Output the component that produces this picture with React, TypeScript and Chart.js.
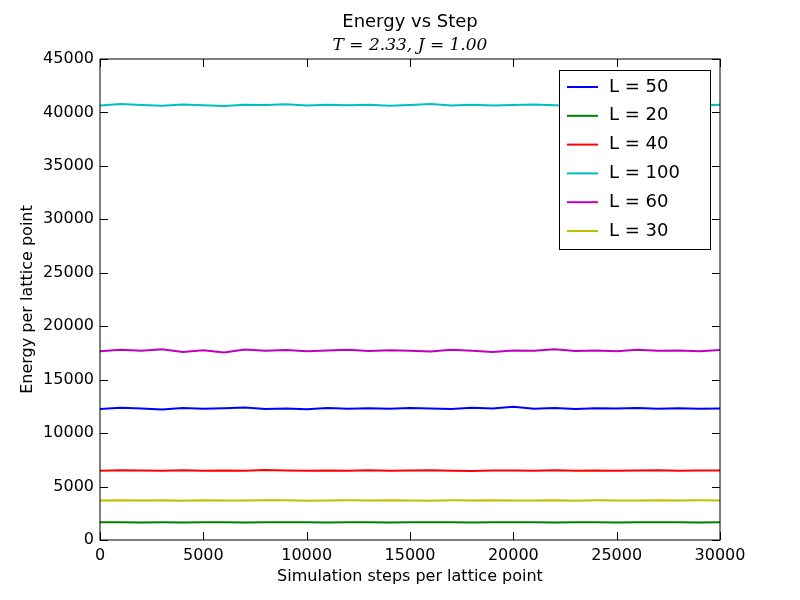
import React, { useEffect, useRef } from 'react';
import { Chart, registerables } from 'chart.js';

Chart.register(...registerables);

const steps = Array.from({ length: 31 }, (_, i) => i * 1000);
const tickValues = [0, 5000, 10000, 15000, 20000, 25000, 30000];
const yTickValues = [0, 5000, 10000, 15000, 20000, 25000, 30000, 35000, 40000, 45000];

const L50 = [12250,12380,12300,12200,12350,12280,12320,12400,12260,12310,12240,12360,12290,12330,12270,12340,12300,12250,12380,12310,12460,12280,12340,12260,12320,12300,12360,12270,12330,12290,12300];
const L20 = [1650,1660,1645,1655,1640,1660,1650,1645,1655,1650,1660,1640,1655,1650,1645,1660,1650,1655,1645,1650,1660,1650,1645,1655,1650,1640,1655,1650,1660,1645,1650];
const L40 = [6480,6520,6500,6470,6530,6490,6510,6480,6540,6500,6470,6510,6490,6520,6480,6500,6530,6490,6460,6510,6500,6480,6520,6490,6510,6470,6500,6530,6490,6510,6500];
const L100 = [40650,40780,40700,40620,40740,40680,40600,40720,40690,40760,40640,40710,40680,40730,40620,40700,40800,40660,40710,40640,40690,40750,40670,40620,40720,40690,40660,40740,40700,40650,40720];
const L60 = [17650,17800,17700,17850,17600,17750,17550,17820,17700,17780,17650,17720,17800,17680,17760,17700,17640,17790,17710,17600,17740,17700,17850,17680,17720,17660,17790,17700,17740,17650,17780];
const L30 = [3700,3720,3690,3710,3680,3730,3700,3690,3710,3720,3680,3700,3710,3690,3720,3700,3680,3710,3700,3730,3690,3700,3720,3680,3710,3700,3690,3720,3700,3710,3690];

const series = [
  { label: 'L = 50', data: L50, color: '#0000ff' },
  { label: 'L = 20', data: L20, color: '#008000' },
  { label: 'L = 40', data: L40, color: '#ff0000' },
  { label: 'L = 100', data: L100, color: '#00bfbf' },
  { label: 'L = 60', data: L60, color: '#bf00bf' },
  { label: 'L = 30', data: L30, color: '#bfbf00' },
];

const FONT = '"DejaVu Sans", sans-serif';

const decorPlugin = {
  id: 'decor',
  afterDraw(chart: any) {
    const { ctx, chartArea: a, scales } = chart;
    ctx.save();
    ctx.strokeStyle = '#000';
    ctx.lineWidth = 1;
    ctx.strokeRect(a.left, a.top, a.right - a.left, a.bottom - a.top);
    ctx.beginPath();
    tickValues.forEach(v => {
      const x = Math.round(scales.x.getPixelForValue(v)) + 0.5;
      ctx.moveTo(x, a.bottom); ctx.lineTo(x, a.bottom - 8);
      ctx.moveTo(x, a.top); ctx.lineTo(x, a.top + 8);
    });
    yTickValues.forEach(v => {
      const y = Math.round(scales.y.getPixelForValue(v)) + 0.5;
      ctx.moveTo(a.left, y); ctx.lineTo(a.left + 8, y);
      ctx.moveTo(a.right, y); ctx.lineTo(a.right - 8, y);
    });
    ctx.stroke();

    // titles
    ctx.fillStyle = '#000';
    ctx.textAlign = 'center';
    ctx.textBaseline = 'middle';
    ctx.font = `18px ${FONT}`;
    ctx.fillText('Energy vs Step', (a.left + a.right) / 2, 22);
    ctx.font = 'italic 17px "DejaVu Serif", serif';
    ctx.fillText('T = 2.33, J = 1.00', (a.left + a.right) / 2, 46);

    // legend
    const lx = 559, ly = 70, lw = 151, lh = 179;
    ctx.fillStyle = '#fff';
    ctx.fillRect(lx, ly, lw, lh);
    ctx.strokeRect(lx + 0.5, ly + 0.5, lw, lh);
    ctx.textAlign = 'left';
    ctx.font = `18px ${FONT}`;
    series.forEach((s, i) => {
      const y = 87 + i * 28.8;
      ctx.strokeStyle = s.color;
      ctx.lineWidth = 2;
      ctx.beginPath();
      ctx.moveTo(567, y); ctx.lineTo(598, y);
      ctx.stroke();
      ctx.fillStyle = '#000';
      ctx.fillText(s.label, 609, y);
    });
    ctx.restore();
  },
};

const App: React.FC = () => {
  const canvasRef = useRef<HTMLCanvasElement | null>(null);
  const chartRef = useRef<Chart | null>(null);

  useEffect(() => {
    if (!canvasRef.current) return;
    if (chartRef.current) chartRef.current.destroy();

    chartRef.current = new Chart(canvasRef.current, {
      type: 'line',
      data: {
        datasets: series.map(s => ({
          label: s.label,
          data: s.data.map((v, i) => ({ x: steps[i], y: v })),
          borderColor: s.color,
          backgroundColor: s.color,
          borderWidth: 2,
          pointRadius: 0,
          tension: 0,
        })),
      },
      options: {
        responsive: false,
        animation: false,
        layout: { padding: { top: 59, right: 80, left: 14, bottom: 10 } },
        plugins: { legend: { display: false }, title: { display: false }, tooltip: { enabled: false } },
        scales: {
          x: {
            type: 'linear',
            min: 0,
            max: 30000,
            afterFit: (s: any) => { s.height = 50; },
            afterBuildTicks: (s: any) => { s.ticks = tickValues.map(v => ({ value: v })); },
            grid: { display: false, drawTicks: false },
            border: { display: false },
            ticks: { color: '#000', font: { family: FONT, size: 16 }, padding: 6, maxRotation: 0, callback: (v: any) => String(v) },
            title: { display: true, text: 'Simulation steps per lattice point', color: '#000', font: { family: FONT, size: 16 }, padding: { top: 4 } },
          },
          y: {
            type: 'linear',
            min: 0,
            max: 45000,
            afterFit: (s: any) => { s.width = 86; },
            afterBuildTicks: (s: any) => { s.ticks = yTickValues.map(v => ({ value: v })); },
            grid: { display: false, drawTicks: false },
            border: { display: false },
            ticks: { color: '#000', font: { family: FONT, size: 16 }, padding: 6, callback: (v: any) => String(v) },
            title: { display: true, text: 'Energy per lattice point', color: '#000', font: { family: FONT, size: 16 }, padding: { bottom: 4 } },
          },
        },
      },
      plugins: [decorPlugin],
    });

    return () => {
      if (chartRef.current) chartRef.current.destroy();
    };
  }, []);

  return (
    <div style={{ position: 'absolute', left: 0, top: 0, width: 800, height: 600, background: '#fff' }}>
      <canvas ref={canvasRef} width={800} height={600}></canvas>
    </div>
  );
};

export default App;
